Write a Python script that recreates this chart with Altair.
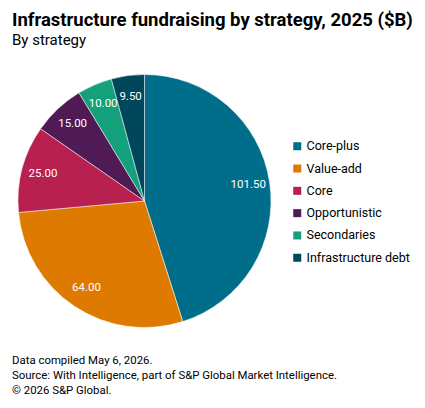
import altair as alt
import pandas as pd

categories = ["Core-plus", "Value-add", "Core", "Opportunistic", "Secondaries", "Infrastructure debt"]
values = [101.5, 64.0, 25.0, 15.0, 10.0, 9.5]
colors = ["#006e8a", "#de7a00", "#b8204f", "#501a54", "#15a07c", "#00475c"]

title_text = "Infrastructure fundraising by strategy, 2025 ($B)"
subtitle_text = "By strategy"
footer_lines = [
    "Data compiled May 6, 2026.",
    "Source: With Intelligence, part of S&P Global Market Intelligence.",
    "\u00a9 2026 S&P Global.",
]

df = pd.DataFrame({"strategy": categories, "value": values, "order": list(range(len(categories)))})

FONT = "Roboto"
CX, CY, R = 144.5, 201, 126.5

base = alt.Chart(df).encode(
    theta=alt.Theta("value:Q", stack=True),
    order=alt.Order("order:Q", sort="ascending"),
)

pie = base.mark_arc(outerRadius=R, stroke="#ffffff", strokeWidth=0.5).encode(
    x=alt.value(CX),
    y=alt.value(CY),
    color=alt.Color(
        "strategy:N",
        scale=alt.Scale(domain=categories, range=colors),
        sort=categories,
        legend=alt.Legend(
            title=None,
            orient="none",
            legendX=291,
            legendY=140,
            symbolType="square",
            symbolSize=64,
            symbolStrokeWidth=0,
            labelFont=FONT,
            labelFontSize=12.5,
            labelColor="#000000",
            labelOffset=3,
            rowPadding=9.3,
            symbolOffset=0,
        ),
    ),
)

labels = base.mark_text(radius=105, font=FONT, fontSize=11.5, color="#ffffff").encode(
    x=alt.value(CX),
    y=alt.value(CY),
    text=alt.Text("value:Q", format=".2f"),
)

title = alt.Chart(pd.DataFrame({"t": [title_text]})).mark_text(
    align="left", baseline="middle", font=FONT, fontSize=18.5, fontWeight="bold", color="#000000"
).encode(x=alt.value(12), y=alt.value(20), text="t:N")

subtitle = alt.Chart(pd.DataFrame({"t": [subtitle_text]})).mark_text(
    align="left", baseline="middle", font=FONT, fontSize=15, color="#000000"
).encode(x=alt.value(12), y=alt.value(40), text="t:N")

footer = alt.Chart(pd.DataFrame({"t": footer_lines, "i": [0, 1, 2]})).mark_text(
    align="left", baseline="middle", font=FONT, fontSize=11.4, color="#000000"
).encode(
    x=alt.value(12),
    y=alt.Y("i:Q", axis=None, scale=alt.Scale(domain=[0, 2], range=[361, 391])),
    text="t:N",
)

chart = alt.layer(pie, labels, title, subtitle, footer).resolve_scale(
    y="independent"
).properties(
    width=425, height=408, padding=0, autosize=alt.AutoSizeParams(type="none"),
    background="#ffffff",
).configure_view(stroke=None)

chart.save("out.html", embed_options={"renderer": "svg", "actions": False})
